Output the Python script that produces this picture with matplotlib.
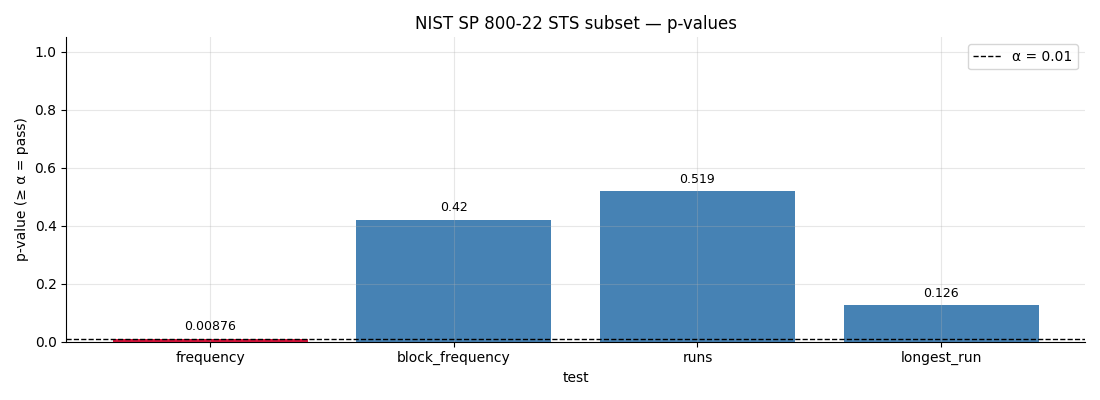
import matplotlib
matplotlib.use("Agg")
import matplotlib.pyplot as plt

# test names and p-values
tests = ["frequency", "block_frequency", "runs", "longest_run"]
p_values = [0.00876, 0.42, 0.519, 0.126]
alpha = 0.01
value_labels = ["0.00876", "0.42", "0.519", "0.126"]


def plot_pvalues():
    fig, ax = plt.subplots(figsize=(11, 4), dpi=100)

    # red if the test fails, blue if it passes
    colors = ["crimson" if p < alpha else "steelblue" for p in p_values]
    bars = ax.bar(tests, p_values, color=colors)
    ax.bar_label(bars, labels=value_labels, padding=4, fontsize=9)

    ax.axhline(alpha, color="black", linestyle="--", linewidth=1, label=f"α = {alpha}")

    ax.set_ylim(0, 1.05)
    ax.set_xlabel("test")
    ax.set_ylabel("p-value (≥ α = pass)")
    ax.set_title("NIST SP 800-22 STS subset — p-values")
    ax.grid(alpha=0.3)
    ax.spines["top"].set_visible(False)
    ax.spines["right"].set_visible(False)
    ax.legend(loc="upper right")

    fig.tight_layout()
    fig.savefig("out.png")


if __name__ == "__main__":
    plot_pvalues()
